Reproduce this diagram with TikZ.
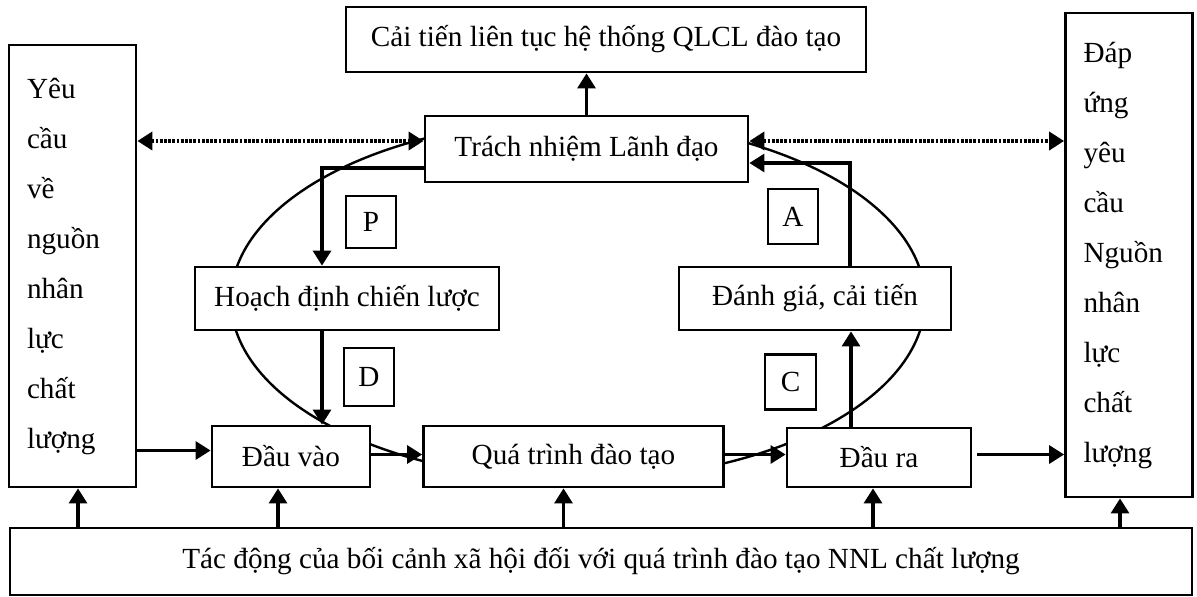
\documentclass[tikz,border=0pt]{standalone}
\usepackage{fontspec}
\setmainfont{Liberation Serif}
\usetikzlibrary{arrows.meta}

\tikzset{
  box/.style={draw, line width=1.4pt, fill=white, inner sep=0pt,
    font=\fontsize{14.6}{25}\selectfont},
  tall/.style={box, align=left, inner xsep=9pt, text width=45.5pt},
  flow/.style={line width=1.6pt, -{Triangle[length=7.5pt,width=9pt]}},
  twoway/.style={line width=1.9pt, dash pattern=on 1.4pt off 0.7pt,
    {Triangle[length=7.5pt,width=9pt]}-{Triangle[length=7.5pt,width=9pt]}},
}

\begin{document}
\begin{tikzpicture}[x=0.5pt,y=-0.5pt]
  \useasboundingbox (0,0) rectangle (1197,596);
  % PDCA loop
  \draw[line width=1.2pt] (578,300) circle [x radius=173.5pt, y radius=90pt];

  \node[box, minimum width=260pt, minimum height=32.5pt] (top) at (606,39.5) {Cải tiến liên tục hệ thống QLCL đào tạo};
  \node[box, minimum width=161.5pt, minimum height=33pt] (lead) at (586.5,149) {Trách nhiệm Lãnh đạo};
  \node[tall, minimum height=221pt] (req) at (72.5,266) {Yêu\\cầu\\về\\nguồn\\nhân\\lực\\chất\\lượng};
  \node[tall, minimum height=242pt] (meet) at (1129,255) {Đáp\\ứng\\yêu\\cầu\\Nguồn\\nhân\\lực\\chất\\lượng};
  \node[box, minimum width=152pt, minimum height=31.5pt] (plan) at (347,298.5) {Hoạch định chiến lược};
  \node[box, minimum width=136pt, minimum height=31.5pt] (eval) at (815,298.5) {Đánh giá, cải tiến};
  \node[box, minimum width=25pt, minimum height=26pt] (p) at (371,222) {P};
  \node[box, minimum width=25pt, minimum height=27.5pt] (a) at (793,216.5) {A};
  \node[box, minimum width=25pt, minimum height=29pt] (d) at (369,377) {D};
  \node[box, minimum width=25.5pt, minimum height=27.5pt] (c) at (790.5,382) {C};
  \node[box, minimum width=79pt, minimum height=30.5pt] (in) at (291,456.5) {Đầu vào};
  \node[box, minimum width=150pt, minimum height=30.5pt] (proc) at (573.5,456.5) {Quá trình đào tạo};
  \node[box, minimum width=92pt, minimum height=29.5pt] (out) at (879,457.5) {Đầu ra};
  \node[box, minimum width=591pt, minimum height=33.5pt] (ctx) at (601,561.5) {Tác động của bối cảnh xã hội đối với quá trình đào tạo NNL chất lượng};

  \draw[flow] (lead.north) -- (lead.north |- top.south);
  \draw[twoway] ([yshift=4pt]lead.west -| req.east) -- ([yshift=4pt]lead.west);
  \draw[twoway] ([yshift=4pt]lead.east) -- ([yshift=4pt]lead.east -| meet.west);
  \draw[flow] ([yshift=-9.5pt]lead.west) -| ([xshift=-12.5pt]plan.north);
  \draw[flow] ([xshift=-12.5pt]plan.south) -- ([xshift=-12.5pt]plan.south |- in.north);
  \draw[flow] ([yshift=3pt]in.west -| req.east) -- ([yshift=3pt]in.west);
  \draw[flow] ([yshift=1pt]in.east) -- ([yshift=1pt]proc.west);
  \draw[flow] ([yshift=1pt]proc.east) -- ([yshift=1pt]proc.east -| out.west);
  \draw[flow] ([yshift=1.5pt,xshift=2.5pt]out.east) -- ([yshift=1.5pt]out.east -| meet.west);
  \draw[flow] ([xshift=-14pt]out.north) -- ([xshift=-14pt]out.north |- eval.south);
  \draw[flow] ([xshift=17.5pt]eval.north) |- ([yshift=-7pt]lead.east);
  \foreach \n/\s in {req/2.75,in/-6.5,proc/-5,out/-3,meet/-4.5}
    \draw[flow] ([xshift=\s pt]\n.south |- ctx.north) -- ([xshift=\s pt]\n.south);
\end{tikzpicture}
\end{document}
